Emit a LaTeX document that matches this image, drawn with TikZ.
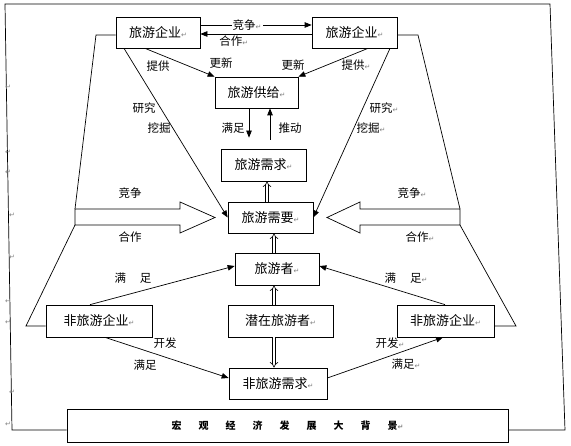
\documentclass[tikz,border=0pt]{standalone}
\usepackage{fontspec}
\setmainfont{Noto Sans CJK SC}
\newfontfamily\markfont{DejaVu Sans}
\usetikzlibrary{arrows.meta}
\newcommand{\retmark}{{\markfont\color{gray}\fontsize{7}{8}\selectfont ↵}}

\begin{document}
\begin{tikzpicture}[x=1pt, y=-1pt, line width=0.7pt,
    box/.style={draw, inner sep=0pt, font=\fontsize{13}{15}\selectfont},
    lbl/.style={inner sep=1pt, font=\fontsize{11.5}{13}\selectfont},
    >={Triangle[length=7pt,width=5.5pt]},
    dbl/.style={double, double distance=2.4pt, line width=0.6pt, -{Implies}},
    pmark/.style={inner sep=0pt, text=gray, font=\markfont\fontsize{7}{8}\selectfont}]
    \useasboundingbox (0,0) rectangle (571,446);

    \node[box, minimum width=84pt, minimum height=31pt] (qyL) at (158,32.5) {旅游企业\retmark};
    \node[box, minimum width=85pt, minimum height=31pt] (qyR) at (354.5,32.5) {旅游企业\retmark};
    \node[box, minimum width=83pt, minimum height=31pt] (gj) at (256.5,92.5) {旅游供给\retmark};
    \node[box, minimum width=85pt, minimum height=32pt] (xq) at (263.5,165) {旅游需求\retmark};
    \node[box, minimum width=85pt, minimum height=31pt] (xy) at (270.5,217.5) {旅游需要\retmark};
    \node[box, minimum width=84pt, minimum height=32pt] (lyz) at (277,269) {旅游者\retmark};
    \node[box, minimum width=105pt, minimum height=32pt] (qz) at (280.5,321) {潜在旅游者\retmark};
    \node[box, minimum width=98pt, minimum height=31pt] (fxq) at (278,383.5) {非旅游需求\retmark};
    \node[box, minimum width=106pt, minimum height=32pt] (fqyL) at (99,321) {非旅游企业\retmark};
    \node[box, minimum width=97pt, minimum height=32pt] (fqyR) at (445.5,321) {非旅游企业\retmark};
    \node[box, minimum width=441pt, minimum height=33pt, font=\fontsize{10}{12}\selectfont\bfseries] (bg) at (287.5,425.5)
        {宏\hspace{17pt}观\hspace{17pt}经\hspace{17pt}济\hspace{17pt}发\hspace{17pt}展\hspace{17pt}大\hspace{17pt}背\hspace{17pt}景\retmark};

    \draw[->] ([yshift=7.5pt]qyL.east) -- node[lbl, fill=white, pos=0.42] {竞争\retmark} ([yshift=7.5pt]qyR.west);
    \draw[->] ([yshift=-1.5pt]qyR.west) -- node[lbl, below, pos=0.7] {合作\retmark} ([yshift=-1.5pt]qyL.east);

    \draw[->] ([xshift=-13pt]qyL.south) -- (gj.north west);
    \draw[->] ([xshift=13.5pt]qyR.south) -- (gj.north east);
    \node[lbl] (tgL) at (158,66) {提供};
    \node[lbl] (gxL) at (221,63) {更新};
    \node[lbl] (gxR) at (293,65) {更新};
    \node[lbl] (tgR) at (356,65) {提供\retmark};

    \draw[->, shorten >=11pt] ([xshift=-7.5pt]gj.south) -- ([xshift=-14.5pt]xq.north);
    \draw[->, shorten <=9pt] ([xshift=6.5pt]xq.north) -- ([xshift=13.5pt]gj.south);
    \node[lbl] (mzG) at (233,128) {满足};
    \node[lbl] (td) at (290,128) {推动};

    \draw[dbl] ([xshift=-3.5pt]xy.north) -- ([xshift=-3.5pt]xy.north |- xq.south);
    \draw[dbl] ([xshift=-3pt]lyz.north) -- ([xshift=-3pt]lyz.north |- xy.south);
    \draw[dbl] ([xshift=-6.5pt]qz.north) -- ([xshift=-6.5pt]qz.north |- lyz.south);
    \draw[dbl] ([xshift=-6.5pt]qz.south) -- ([xshift=-6.5pt]qz.south |- fxq.north);

    \draw[->] ([xshift=-34pt]qyL.south) -- (xy.west);
    \draw[->] ([xshift=35.5pt]qyR.south) -- (xy.east);
    \node[lbl] (yjL) at (144,108) {研究};
    \node[lbl] (wjL) at (159,128) {挖掘};
    \node[lbl] (yjR) at (384,108) {研究\retmark};
    \node[lbl] (wjR) at (371,128) {挖掘\retmark};

    \draw (75,209) -- (180,209) -- (180,202) -- (215,217.5) -- (180,233) -- (180,225) -- (75,225) -- cycle;
    \draw (460,209) -- (360,209) -- (360,202) -- (327,217.5) -- (360,233) -- (360,225) -- (460,225) -- cycle;
    \node[lbl] (jzL) at (130,193) {竞争};
    \node[lbl] (hzL) at (130,237) {合作};
    \node[lbl] (jzR) at (412,193) {竞争\retmark};
    \node[lbl] (hzR) at (420,237) {合作\retmark};

    \coordinate (tlA) at (96,35);
    \coordinate (tlB) at (75,209);
    \coordinate (tlC) at (75,225);
    \coordinate (tlD) at (26,326);
    \coordinate (trA) at (418,35);
    \coordinate (trB) at (460,209);
    \coordinate (trC) at (460,225);
    \coordinate (trD) at (516,326);
    \draw ([yshift=-2.5pt]qyL.west) -- (tlA) -- (tlB);
    \draw (tlC) -- (tlD) -- ([yshift=-5pt]fqyL.west);
    \draw ([yshift=-2.5pt]qyR.east) -- (trA) -- (trB);
    \draw (trC) -- (trD) -- ([yshift=-5pt]fqyR.east);

    \draw[->] ([xshift=-9pt]fqyL.north) -- ([yshift=3pt]lyz.west);
    \draw[->] ([xshift=-0.5pt]fqyR.north) -- ([yshift=3pt]lyz.east);
    \node[lbl] (mzL) at (133,278) {满\hspace{14pt}足};
    \node[lbl] (mzR) at (406,278) {满\hspace{14pt}足\retmark};

    \draw[->] ([xshift=6pt]fqyL.south) -- ([yshift=5.5pt]fxq.west);
    \draw[->] ([yshift=5.5pt]fxq.east) -- ([xshift=-2.5pt]fqyR.south);
    \node[lbl] (kfL) at (165,343) {开发};
    \node[lbl] (mzKL) at (145,365) {满足};
    \node[lbl] (kfR) at (390,343) {开发\retmark};
    \node[lbl] (mzKR) at (406,364) {满足\retmark};

    \coordinate (fA) at (12,430);
    \coordinate (fB) at (5,4);
    \coordinate (fC) at (550,4);
    \coordinate (fD) at (565,430);
    \draw ([yshift=-4.5pt]bg.west) -- (fA) -- (fB) -- (fC) -- (fD) -- ([yshift=-4.5pt]bg.east);

    \foreach \yy in {87,152,172,301,322,424}
        \node[pmark] at (8,\yy) {↵};
    \foreach \yy in {215,257,392}
        \node[pmark] at (12,\yy) {↵};
\end{tikzpicture}
\end{document}
